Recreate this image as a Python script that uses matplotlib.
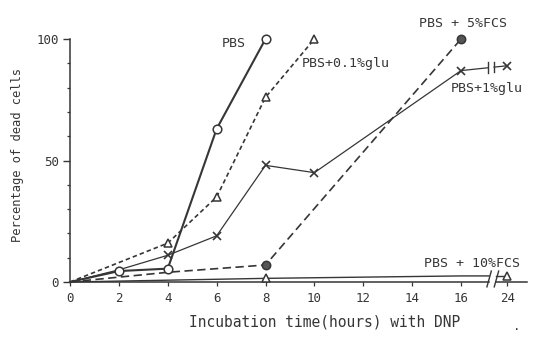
import numpy as np
import matplotlib
matplotlib.use("Agg")
import matplotlib.pyplot as plt

# --- data -----------------------------------------------------------------
tick_hours = [0, 2, 4, 6, 8, 10, 12, 14, 16, 24]
tick_labels = ["0", "2", "4", "6", "8", "10", "12", "14", "16", "24"]

pbs_t = [0, 2, 4, 6, 8]
pbs_v = [0, 4.5, 5.5, 63, 100]

glu01_t = [0, 4, 6, 8, 10]
glu01_v = [0, 16, 35, 76, 100]

glu1_t = [0, 2, 4, 6, 8, 10, 16, 24]
glu1_v = [0, 5, 11, 19, 48, 45, 87, 89]

fcs5_t = [0, 4, 8, 16]
fcs5_v = [0, 4, 7, 100]

fcs10_t = [0, 8, 16, 24]
fcs10_v = [0, 1.5, 2.5, 2.5]

# --- broken time axis: 24 h is drawn just after 16 h -----------------------
POS_24 = 17.9
BREAK_LO, BREAK_HI = 17.15, 17.45
X_END = 18.7


def to_pos(hours):
    return [h if h <= 16 else POS_24 for h in hours]


INK = "#363636"
FONT = "DejaVu Sans Mono"
plt.rcParams["lines.scale_dashes"] = False
plt.rcParams["font.family"] = FONT

fig = plt.figure(figsize=(5.33, 3.45), dpi=100)
ax = fig.add_axes([70 / 533, 1 - 282 / 345, (527 - 70) / 533, (282 - 39) / 345])
ax.set_xlim(0, X_END)
ax.set_ylim(0, 100)


def draw(times, vals, marker_idx, gap=None, **kw):
    x = np.array(to_pos(times), float)
    y = np.array(vals, float)
    mk = dict(marker=kw.pop("marker"), ms=kw.pop("ms", 6),
              mfc=kw.pop("mfc", "white"), mec=INK, mew=kw.pop("mew", 1.1))
    if gap is None:
        ax.plot(x, y, color=INK, clip_on=False, zorder=2, **kw)
    else:
        lo, hi = gap
        left = x < lo
        right = x > hi
        xl = np.append(x[left], lo)
        yl = np.append(y[left], np.interp(lo, x, y))
        xr = np.insert(x[right], 0, hi)
        yr = np.insert(y[right], 0, np.interp(hi, x, y))
        ax.plot(xl, yl, color=INK, clip_on=False, zorder=2, **kw)
        ax.plot(xr, yr, color=INK, clip_on=False, zorder=2, **kw)
    ax.plot(x[marker_idx], y[marker_idx], linestyle="none", clip_on=False,
            zorder=3, **mk)


# PBS
draw(pbs_t, pbs_v, [1, 2, 3, 4], lw=1.5, marker="o", ms=6.2)
# PBS + 0.1% glu
draw(glu01_t, glu01_v, [1, 2, 3, 4], lw=1.2, dashes=(3.2, 2.2),
     marker="^", ms=6)
# PBS + 1% glu
draw(glu1_t, glu1_v, [2, 3, 4, 5, 6, 7], gap=(17.1, 17.35), lw=0.9,
     marker="x", ms=6, mew=1.2)
# PBS + 5% FCS
draw(fcs5_t, fcs5_v, [2, 3], lw=1.2, dashes=(6, 3.2),
     marker="o", ms=6, mfc="#555555")
# PBS + 10% FCS
draw(fcs10_t, fcs10_v, [1, 3], gap=(BREAK_LO, BREAK_HI), lw=1.0,
     marker="^", ms=6)

# break marks on the 1% glu curve
y_brk = np.interp([17.1, 17.35], to_pos(glu1_t), glu1_v)
for xb, yb in zip([17.1, 17.35], y_brk):
    ax.plot([xb, xb], [yb - 2.2, yb + 2.2], color=INK, lw=1.0,
            clip_on=False)

# --- axes ----------------------------------------------------------------
for s in ("top", "right", "bottom"):
    ax.spines[s].set_visible(False)
ax.spines["left"].set_color(INK)
ax.spines["left"].set_linewidth(1.1)
ax.spines["left"].set_bounds(0, 100)

# broken bottom axis
ax.plot([0, BREAK_LO], [0, 0], color=INK, lw=1.1, clip_on=False, zorder=1)
ax.plot([BREAK_HI, X_END], [0, 0], color=INK, lw=1.1, clip_on=False, zorder=1)
for xb in (BREAK_LO, BREAK_HI):
    ax.plot([xb - 0.09, xb + 0.09], [-2.0, 4.5], color=INK, lw=1.0,
            clip_on=False)

ax.set_xticks(to_pos(tick_hours))
ax.set_xticklabels(tick_labels)
ax.set_yticks([0, 50, 100])
ax.set_yticks(np.arange(0, 101, 10), minor=True)
ax.tick_params(axis="x", direction="out", length=3, width=0.9, color=INK,
               labelsize=9, labelcolor=INK, pad=4)
ax.tick_params(axis="y", which="major", direction="out", length=5, width=1.0,
               color=INK, labelsize=9, labelcolor=INK, pad=3)
ax.tick_params(axis="y", which="minor", direction="out", length=2.5,
               width=0.9, color=INK)

# --- curve labels ----------------------------------------------------------
lab = dict(color=INK, fontsize=9.5, va="center")
ax.text(7.2, 98, "PBS", ha="right", **lab)
ax.text(9.5, 90, "PBS+0.1%glu", ha="left", **lab)
ax.text(14.3, 106.5, "PBS + 5%FCS", ha="left", **lab)
ax.text(15.6, 79.5, "PBS+1%glu", ha="left", **lab)
ax.text(14.5, 7.5, "PBS + 10%FCS", ha="left", **lab)

fig.text(18 / 533, 1 - 155 / 345, "Percentage of dead cells", rotation=90,
         ha="center", va="center", color=INK, fontsize=8.7)
fig.text(325 / 533, 1 - 322 / 345, "Incubation time(hours) with DNP",
         ha="center", va="center", color=INK, fontsize=10.5)
fig.text(517 / 533, 1 - 326 / 345, ".", ha="center", va="center",
         color=INK, fontsize=9)

fig.savefig("out.png", dpi=100, facecolor="white")
